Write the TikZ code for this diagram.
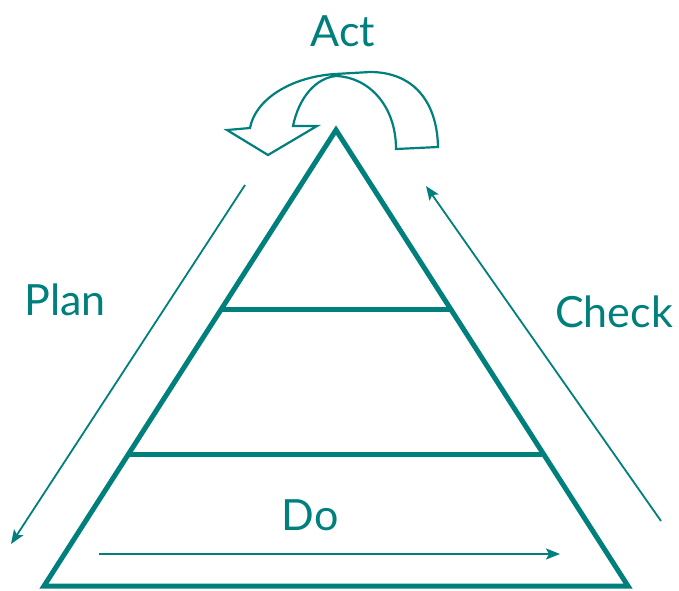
\documentclass[tikz,border=0pt]{standalone}
\usepackage{fontspec}
\setmainfont{Lato}
\usetikzlibrary{arrows.meta}
\definecolor{tealc}{RGB}{0,128,125}
\tikzset{
  thick line/.style={draw=tealc, line width=5pt},
  thin arrow/.style={draw=tealc, line width=1.8pt, -{Stealth[length=14pt,width=11pt,inset=3pt]}},
  lbl/.style={text=tealc, font=\fontsize{43}{47}\selectfont, inner sep=0pt},
  band/.style={draw=tealc, line width=2.2pt, fill=white, line join=miter}
}
\begin{document}
\begin{tikzpicture}[x=1pt,y=-1pt]
\useasboundingbox (0,0) rectangle (679,590);
% pyramid
\coordinate (apex) at (336,130);
\coordinate (bl) at (44,586);
\coordinate (br) at (628,586);
\draw[thick line, line join=miter] (apex) -- (bl) -- (br) -- cycle;
\coordinate (l1a) at (221,309); \coordinate (l1b) at (450,309);
\coordinate (l2a) at (129,454); \coordinate (l2b) at (542,454);
\draw[thick line] (l1a) -- (l1b);
\draw[thick line] (l2a) -- (l2b);
% arrows
\coordinate (p1) at (245,185); \coordinate (p2) at (11,544);
\draw[thin arrow] (p1) -- (p2);
\coordinate (c1) at (661,521); \coordinate (c2) at (426,186);
\draw[thin arrow] (c1) -- (c2);
\coordinate (d1) at (99,554); \coordinate (d2) at (560,554);
\draw[thin arrow] (d1) -- (d2);
% U-turn arrow
\draw[band] (438,147) .. controls (437,100) and (412,72) .. (370,72)
  -- (335,74) .. controls (290,77) and (255,100) .. (250,128)
  -- (227,130) -- (268,155) -- (317,126) -- (293,126)
  .. controls (299,97) and (316,78) .. (336,76)
  .. controls (368,77) and (396,105) .. (396,149) -- cycle;
% labels
\node[lbl] (act) at (343,31) {Act};
\node[lbl] (plan) at (65,300) {Plan};
\node[lbl] (check) at (614,312) {Check};
\node[lbl] (do) at (310,515) {Do};
\end{tikzpicture}
\end{document}
